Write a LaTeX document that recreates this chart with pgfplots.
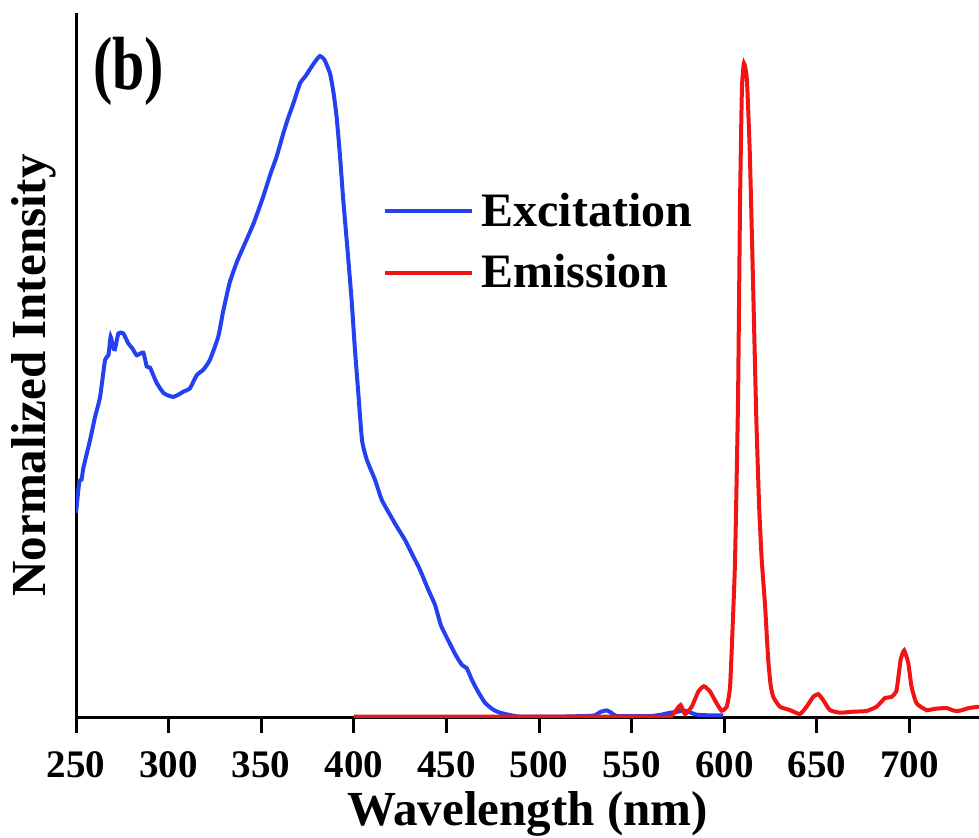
\documentclass[border=0pt]{standalone}
\usepackage{pgfplots}
\pgfplotsset{compat=1.18}
\usepackage{fontspec}
\setmainfont{Liberation Serif}
\definecolor{exc}{RGB}{35,65,240}
\definecolor{emi}{RGB}{240,20,20}

\begin{document}
\begin{tikzpicture}
\useasboundingbox (-38pt,-60pt) rectangle (451.5pt,359pt);
\begin{axis}[
    at={(0,0)}, anchor=south west,
    scale only axis, width=451.5pt, height=352.5pt,
    xmin=250, xmax=737.5, ymin=0, ymax=1.065,
    axis x line=bottom, axis y line=left,
    axis line style={-, line width=1.5pt},
    xtick={250,300,...,700}, ytick=\empty,
    tick align=outside, major tick length=7.5pt,
    x tick style={line width=1.5pt, black},
    /pgf/number format/assume math mode=true,
    tick label style={font=\fontsize{19.5}{19.5}\selectfont\bfseries},
    xticklabel style={yshift=-6pt},
    xlabel={Wavelength (nm)}, ylabel={Normalized Intensity},
    label style={font=\fontsize{24.5}{24.5}\selectfont\bfseries},
    xlabel style={at={(axis description cs:0.5,0)}, anchor=base, yshift=-54pt},
    ylabel style={at={(axis description cs:-0.0343,0.486)}, anchor=base},
    legend style={at={(axis description cs:0.340,0.763)}, anchor=north west,
        draw=none, fill=none, inner sep=0pt, row sep=0pt,
        font=\fontsize{24}{24}\selectfont\bfseries,
        nodes={inner ysep=6.3pt, inner xsep=3.5pt}},
    legend cell align=left,
    legend image code/.code={\draw[#1] (0pt,0pt) -- (43.5pt,0pt);},
    every axis plot/.append style={line width=2pt},
]
% excitation spectrum
\addplot[exc, smooth, tension=0.3] coordinates {
(250,0.31) (251.8,0.357) (253,0.36) (254,0.378) (257.6,0.42) (260.3,0.455)
(263,0.485) (265.7,0.541) (267.5,0.548) (268.7,0.576) (270,0.56) (271,0.557)
(272.9,0.581) (275.5,0.581) (278.2,0.566) (280.5,0.558) (282.8,0.548) (286.3,0.552)
(288.2,0.531) (290,0.529) (293.6,0.506) (297.2,0.491) (300,0.487) (302.5,0.485)
(305,0.488) (308,0.493) (311.5,0.498) (315.2,0.518) (318.7,0.526) (322.3,0.541)
(326.8,0.576) (329.5,0.615) (333,0.658) (337,0.69) (342,0.722) (346,0.748)
(351,0.787) (355,0.822) (358.3,0.848) (361.9,0.883) (364.5,0.906) (367.3,0.928)
(371,0.959) (374,0.97) (377.2,0.984) (380,0.995) (381.7,1.0) (384,0.995)
(387.1,0.974) (389,0.945) (390.7,0.908) (392.5,0.85) (394.3,0.782) (396.5,0.71)
(398.8,0.631) (400.5,0.56) (402.4,0.491) (404.4,0.42) (407,0.39) (411.4,0.36)
(415,0.33) (419.5,0.307) (423,0.29) (427.6,0.269) (431,0.25) (435.7,0.224)
(440,0.195) (443.8,0.171) (447,0.14) (450.8,0.118) (455,0.095) (458.4,0.080)
(461,0.075) (463.8,0.057) (467,0.04) (470.8,0.023) (475,0.013) (478.9,0.008)
(485,0.004) (490,0.002) (510,0.002) (525,0.003) (530,0.004) (533,0.009)
(536.4,0.0115) (539,0.008) (542,0.003) (560,0.003) (566,0.005) (570.7,0.008)
(574,0.009) (577.9,0.0115) (581,0.009) (585.1,0.005) (592,0.004) (599.5,0.004)
};
\addlegendentry{Excitation}
% emission spectrum
\addplot[emi, smooth, tension=0.3] coordinates {
(400,0.002) (450,0.002) (500,0.002) (540,0.002) (560,0.002) (570.7,0.002)
(573.4,0.0095) (576.4,0.0196) (578.8,0.006) (582.4,0.017) (586,0.040) (589,0.048)
(592.3,0.040) (595.9,0.022) (598.6,0.011) (601.3,0.017) (603.1,0.047) (604.5,0.138)
(605.8,0.239) (607.4,0.48) (608.5,0.78) (609.5,0.949) (610.6,0.989) (612.2,0.964)
(613.8,0.85) (615.5,0.66) (617.2,0.46) (618.8,0.32) (620.2,0.239) (622,0.17)
(623.7,0.088) (625,0.05) (626.4,0.032) (630,0.017) (635.4,0.012) (640.8,0.006)
(644.4,0.017) (648,0.032) (650.7,0.036) (653.4,0.027) (657,0.012) (662.4,0.008)
(669.6,0.0095) (676.8,0.0106) (682.2,0.017) (686.7,0.030) (690.3,0.032) (693,0.042)
(695.2,0.088) (697.1,0.102) (699.3,0.083) (701.1,0.047) (703.8,0.022) (709.2,0.012)
(714,0.014) (720,0.015) (724,0.011) (727.2,0.011) (732,0.015) (737.5,0.017)
};
\addlegendentry{Emission}
\end{axis}
\node[font=\fontsize{29}{29}\selectfont\bfseries, anchor=base west, yscale=1.3, inner sep=0pt]
    at (8.5pt,314pt) {(b)};
\end{tikzpicture}
\end{document}
